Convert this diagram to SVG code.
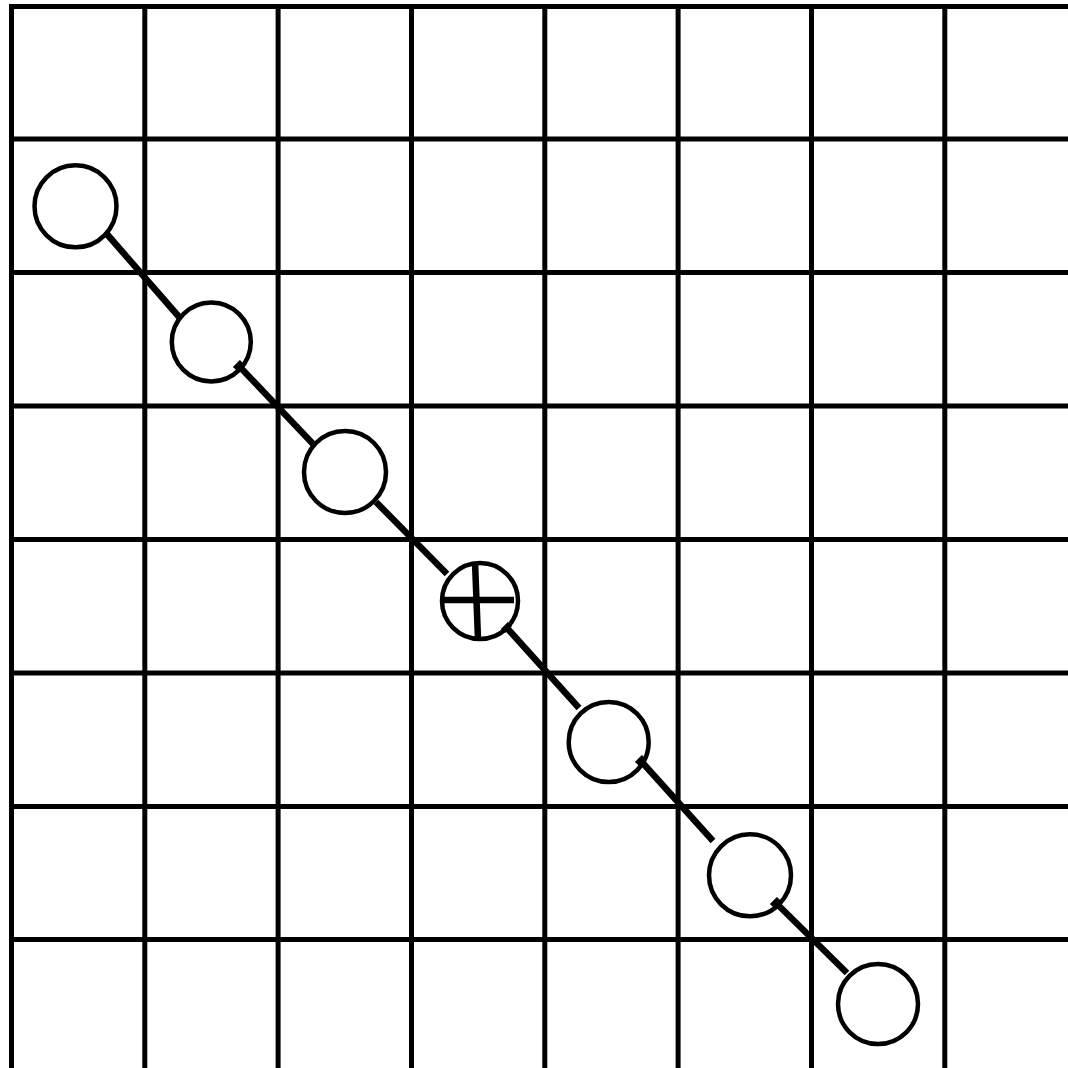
<svg xmlns="http://www.w3.org/2000/svg" width="1068" height="1068" viewBox="0 0 1068 1068">
<style>
.grid line{stroke:#000;stroke-width:5}
.node circle{fill:#fff;stroke:#000;stroke-width:4.5}
.conn line{stroke:#000;stroke-width:6.5}
.conn line.tick{stroke-width:6}
.cross line{stroke:#000;stroke-width:6.5}
</style>
<rect width="1068" height="1068" fill="#fff"/>
<g id="grid" class="grid">
<line x1="11.5" y1="4" x2="11.5" y2="1068"/>
<line x1="144.8" y1="4" x2="144.8" y2="1068"/>
<line x1="278.1" y1="4" x2="278.1" y2="1068"/>
<line x1="411.5" y1="4" x2="411.5" y2="1068"/>
<line x1="544.8" y1="4" x2="544.8" y2="1068"/>
<line x1="678.1" y1="4" x2="678.1" y2="1068"/>
<line x1="811.5" y1="4" x2="811.5" y2="1068"/>
<line x1="944.8" y1="4" x2="944.8" y2="1068"/>
<line x1="9" y1="6.5" x2="1068" y2="6.5"/>
<line x1="9" y1="139" x2="1068" y2="139"/>
<line x1="9" y1="272.5" x2="1068" y2="272.5"/>
<line x1="9" y1="406" x2="1068" y2="406"/>
<line x1="9" y1="539.5" x2="1068" y2="539.5"/>
<line x1="9" y1="673" x2="1068" y2="673"/>
<line x1="9" y1="806.5" x2="1068" y2="806.5"/>
<line x1="9" y1="939.5" x2="1068" y2="939.5"/>
</g>
<g id="n1" class="node"><circle cx="75.5" cy="206.3" r="41"/></g>
<g id="n2" class="node"><circle cx="211.3" cy="342" r="39.5"/></g>
<g id="n3" class="node"><circle cx="345" cy="472" r="41"/></g>
<g id="n4" class="node"><circle cx="480" cy="601" r="38"/>
<g class="cross"><line x1="440" y1="600" x2="514" y2="600"/><line x1="475" y1="562" x2="478" y2="639"/></g></g>
<g id="n5" class="node"><circle cx="608.7" cy="742" r="40"/></g>
<g id="n6" class="node"><circle cx="750" cy="875.3" r="41"/></g>
<g id="n7" class="node"><circle cx="878" cy="1004" r="40"/></g>
<g id="connectors" class="conn">
<line x1="106" y1="233" x2="180" y2="318"/>
<line x1="239" y1="366" x2="315" y2="446"/>
<line x1="376" y1="502" x2="447" y2="574"/>
<line x1="507" y1="628" x2="579" y2="708"/>
<line x1="641" y1="761" x2="713" y2="841"/>
<line x1="776" y1="903" x2="847" y2="973"/>
<line class="tick" x1="235" y1="369" x2="242" y2="362"/>
<line class="tick" x1="503" y1="631" x2="510" y2="624"/>
<line class="tick" x1="637" y1="764" x2="644" y2="757"/>
<line class="tick" x1="772" y1="906" x2="779" y2="899"/>
</g>
</svg>
